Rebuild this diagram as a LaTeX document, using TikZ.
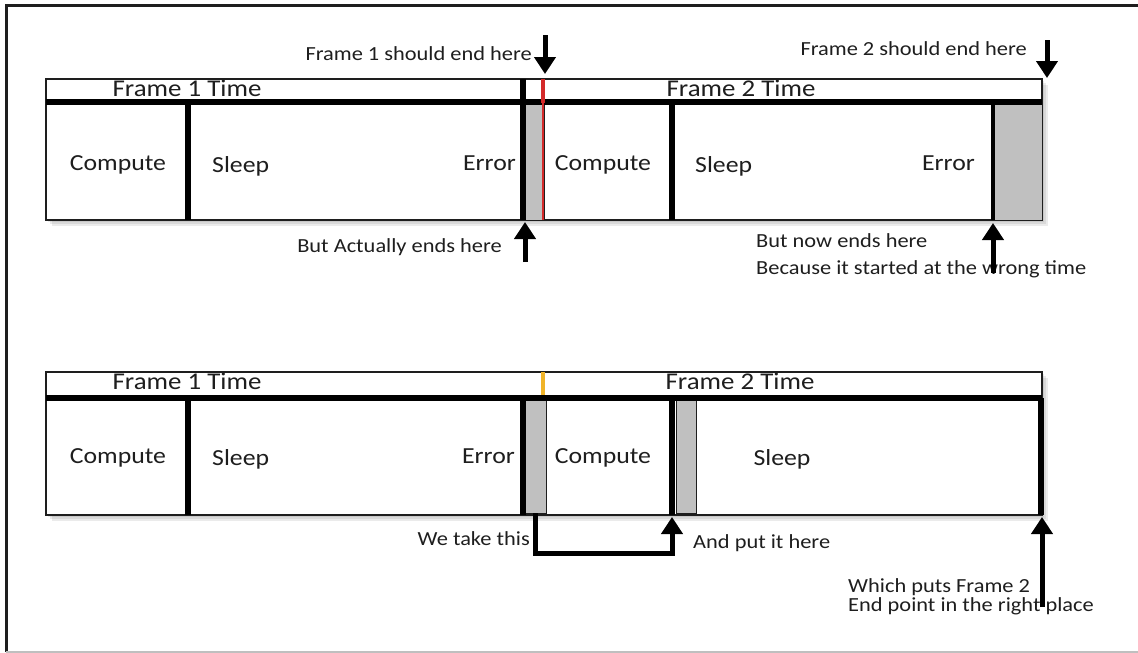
\documentclass[tikz,border=0pt]{standalone}
\usepackage{fontspec}
\setmainfont{Carlito}[FakeStretch=1.12]
\usetikzlibrary{arrows.meta}
\definecolor{ink}{HTML}{1E1E1E}
\definecolor{errgray}{HTML}{C0C0C0}
\definecolor{redline}{HTML}{D42A2A}
\definecolor{yelline}{HTML}{F0B429}
\begin{document}
\begin{tikzpicture}[x=1pt,y=-1pt,
  thinbox/.style={draw=ink, line width=1.5pt, fill=white},
  bar/.style={line width=5.5pt, draw=black},
  errfill/.style={fill=errgray, draw=ink, line width=1pt},
  lbl/.style={font=\fontsize{23}{27}\selectfont, text=ink, inner sep=0pt},
  hdr/.style={font=\fontsize{24}{28}\selectfont, text=ink, inner sep=0pt},
  note/.style={font=\fontsize{20}{24}\selectfont, text=ink, inner sep=0pt},
  arr/.style={line width=5pt, draw=black, -{Triangle[width=21pt,length=17pt]}},
  shade/.style={fill=black, opacity=0.08}
]
\useasboundingbox (0,0) rectangle (1138,653);
% outer frame
\draw[line width=3pt, draw=ink] (6,652) -- (6,5) -- (1138,5);
\draw[line width=2pt, draw=black!25] (6,652) -- (1138,652);

% ---------------- top diagram ----------------
\foreach \d in {2,4,6}{\fill[shade] (46+\d,79+\d) rectangle (1042+\d,220+\d);}
\draw[thinbox] (46,79) rectangle (1042,103);
\draw[thinbox] (46,103) rectangle (1042,220);
\draw[errfill] (525,103) rectangle (544,220);
\draw[errfill] (993,103) rectangle (1042,220);
\draw[bar] (46,102) -- (1042,102);
\draw[bar] (188,102) -- (188,220);
\draw[bar] (523,79) -- (523,220);
\draw[bar] (672,102) -- (672,220);
\draw[line width=3.5pt, draw=black] (993,102) -- (993,220);
\draw[line width=4pt, draw=redline] (543,79) -- (543,103);
\draw[line width=2pt, draw=redline] (543,103) -- (543,220);

\node[hdr, anchor=base] (t1h) at (187,96) {Frame 1 Time};
\node[hdr, anchor=base] (t2h) at (741,96) {Frame 2 Time};
\node[lbl, anchor=base] (tc1) at (118,170) {Compute};
\node[lbl, anchor=base west] (ts1) at (212,172) {Sleep};
\node[lbl, anchor=base east] (te1) at (516,170) {Error};
\node[lbl, anchor=base] (tc2) at (603,170) {Compute};
\node[lbl, anchor=base west] (ts2) at (695,172) {Sleep};
\node[lbl, anchor=base east] (te2) at (975,170) {Error};

\node[note, anchor=base east] (n1) at (532,60) {Frame 1 should end here};
\node[note, anchor=base east] (n2) at (1027,55) {Frame 2 should end here};
\node[note, anchor=base east] (n3) at (502,252) {But Actually ends here};
\node[note, anchor=base west] (n4) at (756,247) {But now ends here};
\node[note, anchor=base west] (n5) at (756,274) {Because it started at the wrong time};

\coordinate (a1s) at (545,35);  \coordinate (a1e) at (545,74);
\coordinate (a2s) at (1047,40); \coordinate (a2e) at (1047,78);
\coordinate (a3s) at (525,262); \coordinate (a3e) at (525,222);
\coordinate (a4s) at (993,273); \coordinate (a4e) at (993,223);
\draw[arr] (a1s) -- (a1e);
\draw[arr] (a2s) -- (a2e);
\draw[arr] (a3s) -- (a3e);
\draw[arr] (a4s) -- (a4e);

% ---------------- bottom diagram ----------------
\foreach \d in {2,4,6}{\fill[shade] (46+\d,372+\d) rectangle (1042+\d,515+\d);}
\draw[thinbox] (46,372) rectangle (1042,397);
\draw[thinbox] (46,397) rectangle (1042,515);
\draw[errfill] (525,397) rectangle (546,513);
\draw[errfill] (676,397) rectangle (696,513);
\draw[bar] (46,398) -- (1042,398);
\draw[bar] (188,398) -- (188,515);
\draw[bar] (523,398) -- (523,515);
\draw[bar] (672,398) -- (672,515);
\draw[bar] (1041,398) -- (1041,515);
\draw[line width=4pt, draw=yelline] (543,372) -- (543,395);

\node[hdr, anchor=base] (b1h) at (187,389) {Frame 1 Time};
\node[hdr, anchor=base] (b2h) at (740,389) {Frame 2 Time};
\node[lbl, anchor=base] (bc1) at (118,463) {Compute};
\node[lbl, anchor=base west] (bs1) at (212,465) {Sleep};
\node[lbl, anchor=base east] (be1) at (515,463) {Error};
\node[lbl, anchor=base] (bc2) at (603,463) {Compute};
\node[lbl, anchor=base] (bs2) at (782,465) {Sleep};

\node[note, anchor=base east] (m1) at (530,545) {We take this};
\node[note, anchor=base west] (m2) at (693,548) {And put it here};
\node[note, anchor=base west] (m3) at (848,592) {Which puts Frame 2};
\node[note, anchor=base west] (m4) at (848,611) {End point in the right place};

\coordinate (c1) at (535,513);
\coordinate (c2) at (672,517);
\draw[arr, line join=miter] (c1) -- (535,553) -- (672,553) -- (c2);
\coordinate (a5s) at (1042,607); \coordinate (a5e) at (1042,517);
\draw[arr] (a5s) -- (a5e);
\end{tikzpicture}
\end{document}
